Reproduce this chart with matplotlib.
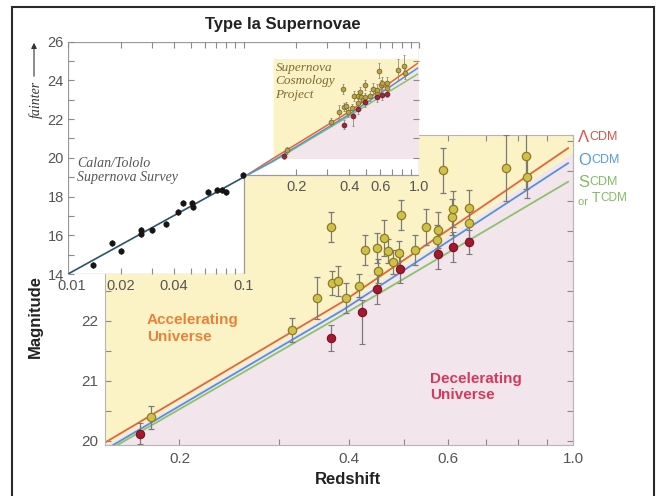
import matplotlib.pyplot as plt
from matplotlib.patches import Polygon, Rectangle
from matplotlib.ticker import FixedLocator, FixedFormatter, NullFormatter, MultipleLocator

plt.rcParams['font.family'] = ['Liberation Sans', 'DejaVu Sans']

# Supernova Cosmology Project, points on/above the models
scp_z = [0.178, 0.317, 0.351, 0.371, 0.373, 0.383, 0.396, 0.416, 0.427, 0.448,
         0.450, 0.462, 0.470, 0.479, 0.490, 0.495, 0.524, 0.548, 0.573, 0.576,
         0.588, 0.609, 0.613, 0.654, 0.654, 0.761, 0.824, 0.829]
scp_mag = [20.39, 21.85, 22.38, 23.57, 22.63, 22.66, 22.38, 22.59, 23.18, 23.21,
           22.83, 23.38, 23.16, 22.99, 23.13, 23.77, 23.18, 23.57, 23.35, 23.52,
           24.51, 23.74, 23.86, 23.88, 23.63, 24.55, 24.75, 24.40]
scp_err = [0.19, 0.20, 0.35, 0.25, 0.20, 0.25, 0.25, 0.20, 0.25, 0.25,
           0.20, 0.30, 0.20, 0.20, 0.20, 0.25, 0.25, 0.30, 0.25, 0.30,
           0.37, 0.30, 0.30, 0.30, 0.25, 0.55, 0.55, 0.35]

# points falling below the models
low_z = [0.170, 0.372, 0.422, 0.448, 0.493, 0.576, 0.613, 0.653]
low_mag = [20.12, 21.71, 22.14, 22.53, 22.86, 23.12, 23.24, 23.32]
low_err_lo = [0.17, 0.22, 0.52, 0.25, 0.22, 0.25, 0.25, 0.20]
low_err_hi = [0.17, 0.22, 0.20, 0.25, 0.22, 0.25, 0.25, 0.20]

# Calan/Tololo nearby supernovae
ct_z = [0.0139, 0.0179, 0.0200, 0.0261, 0.0261, 0.0300, 0.0362, 0.0425,
        0.0450, 0.0507, 0.0518, 0.0630, 0.0704, 0.0751, 0.0792, 0.0997]
ct_mag = [14.47, 15.59, 15.19, 16.29, 16.06, 16.25, 16.60, 17.22,
          17.65, 17.65, 17.47, 18.22, 18.36, 18.36, 18.22, 19.11]

# model curves
model_z = [0.01, 0.1, 0.1475, 0.39, 0.98]
lcdm = [14.0, 19.0, 19.97, 22.32, 24.88]
ocdm = [14.0, 19.0, 19.85, 22.18, 24.63]
scdm = [14.0, 19.0, 19.81, 22.10, 24.32]

# accelerating / decelerating divide
edge_z = [0.1475, 0.39, 1.0]
edge_mag = [19.92, 22.25, 24.81]

yellow_bg = '#fbf3c6'
pink_bg = '#f2e5ec'
c_red = '#e8623c'
c_blue = '#5592d6'
c_green = '#8cc26c'
tick_c = '#8a8a8a'
lab_c = '#555555'

fig = plt.figure(figsize=(6.58, 4.96), dpi=100)
W, H = 658, 496

# ---- main panel ----
ax = fig.add_axes([105 / W, 51 / H, 468 / W, 310 / H], zorder=1)
ax.set_xscale('log')
ax.set_xlim(0.1475, 1.0)
ax.set_ylim(19.93, 25.1)

ax.fill_between(edge_z, edge_mag, 25.1, color=yellow_bg, lw=0, zorder=0)
ax.fill_between(edge_z, 19.93, edge_mag, color=pink_bg, lw=0, zorder=0)

ax.plot(model_z, scdm, color=c_green, lw=1.3, zorder=2)
ax.plot(model_z, ocdm, color=c_blue, lw=1.3, zorder=2)
ax.plot(model_z, lcdm, color=c_red, lw=1.3, zorder=2)

ax.errorbar(scp_z, scp_mag, yerr=scp_err, fmt='o', ms=6, mfc='#cfc04a', mec='#8c7d22',
            mew=0.9, ecolor='#7a7a7a', elinewidth=0.9, capsize=2, capthick=0.8, zorder=3)
ax.errorbar(low_z, low_mag, yerr=[low_err_lo, low_err_hi], fmt='o', ms=6, mfc='#a5192f',
            mec='#7a1020', mew=0.8, ecolor='#7a7a7a', elinewidth=0.9, capsize=2,
            capthick=0.8, zorder=3)

ax.xaxis.set_major_locator(FixedLocator([0.2, 0.4, 0.6, 1.0]))
ax.xaxis.set_major_formatter(FixedFormatter(['0.2', '0.4', '0.6', '1.0']))
ax.xaxis.set_minor_locator(FixedLocator([0.3, 0.5, 0.7, 0.8, 0.9]))
ax.xaxis.set_minor_formatter(NullFormatter())
ax.yaxis.set_major_locator(MultipleLocator(1))
ax.yaxis.set_minor_locator(MultipleLocator(0.5))
ax.tick_params(which='both', direction='in', top=True, right=True, color=tick_c,
               length=4, width=0.8, labelsize=11, labelcolor=lab_c, pad=5)
for s in ax.spines.values():
    s.set_color('#b5b5b5')
    s.set_linewidth(0.8)

ax.text(0.09, 0.377, 'Accelerating\nUniverse', transform=ax.transAxes, fontsize=11,
        fontweight='bold', color='#e8823a', va='center', linespacing=1.25)
ax.text(0.694, 0.187, 'Decelerating\nUniverse', transform=ax.transAxes, fontsize=11,
        fontweight='bold', color='#d43a5c', va='center', linespacing=1.25)


def model_label(y, parts, color):
    # big capital letters followed by small caps
    prev = None
    for txt, size in parts:
        if prev is None:
            prev = ax.text(1.011, y, txt, transform=ax.transAxes, fontsize=size,
                           color=color, va='center', ha='left')
        else:
            prev = ax.annotate(txt, xy=(1, 0.12), xycoords=prev, xytext=(0.3, 0),
                               textcoords='offset points', fontsize=size, color=color,
                               va='bottom', ha='left')


model_label(0.993, [('\u039b', 12), ('CDM', 9)], '#e05048')
model_label(0.919, [('O', 12), ('CDM', 9)], '#5a9ad8')
model_label(0.848, [('S', 12), ('CDM', 9)], '#86bb62')
model_label(0.785, [('or ', 8), ('T', 10), ('CDM', 8.5)], '#86bb62')

# ---- inset: full Hubble diagram ----
ins = fig.add_axes([68 / W, 222 / H, 351 / W, 232.3 / H], zorder=2)
ins.set_xscale('log')
ins.set_xlim(0.01, 1.0)
ins.set_ylim(14, 26)
ins.set_facecolor('none')
for s in ins.spines.values():
    s.set_visible(False)

step = 19.1
frame = Polygon([(0.01, 14), (0.01, 26), (1.0, 26), (1.0, step), (0.1, step), (0.1, 14)],
                closed=True, fc='white', ec='#9a9a9a', lw=0.9, zorder=0)
ins.add_patch(frame)

f1 = ins.fill_between(edge_z, edge_mag, 25.1, color=yellow_bg, lw=0, zorder=0.5)
f2 = ins.fill_between(edge_z, 20, edge_mag, color=pink_bg, lw=0, zorder=0.5)
for art in (f1, f2):
    art.set_clip_path(frame)

for mags, col in ((lcdm, c_red), (scdm, c_green), (ocdm, c_blue)):
    ln, = ins.plot(model_z, mags, color=col, lw=1.1, zorder=2)
    ln.set_clip_path(frame)
core, = ins.plot(model_z[:2], lcdm[:2], color='#1f3d4a', lw=0.6, zorder=2.1)
core.set_clip_path(frame)

ins.errorbar(ct_z, ct_mag, yerr=0.15, fmt='o', ms=3.4, color='#151515',
             elinewidth=0.8, capsize=0, zorder=3)
ins.errorbar(scp_z, scp_mag, yerr=scp_err, fmt='o', ms=3.4, mfc='#b9a444', mec='#7a6a2a',
             mew=0.6, ecolor='#8a8a8a', elinewidth=0.6, capsize=1, zorder=3)
ins.errorbar(low_z, low_mag, yerr=[low_err_lo, low_err_hi], fmt='o', ms=3.4, mfc='#9a2a3a',
             mec='#6a1a2a', mew=0.6, ecolor='#8a8a8a', elinewidth=0.6, capsize=1, zorder=3)

ins.yaxis.set_major_locator(MultipleLocator(2))
ins.yaxis.set_minor_locator(MultipleLocator(1))
ins.tick_params(axis='y', which='both', direction='in', left=True, right=False,
                color=tick_c, length=4, width=0.8, labelsize=10.5, labelcolor=lab_c, pad=3)
ins.tick_params(axis='x', which='both', direction='in', bottom=False, labelbottom=False,
                top=True, color=tick_c, length=4, width=0.8)

# ticks along the right edge and the stepped lower edge
right_ticks = [20, 21, 22, 23, 24, 25]
low_ticks = [0.02, 0.03, 0.04, 0.05, 0.06, 0.07, 0.08, 0.09]
high_ticks = [0.2, 0.3, 0.4, 0.5, 0.6, 0.7, 0.8, 0.9]
ins.plot([1.0] * len(right_ticks), right_ticks, ls='none', marker=0, ms=4, mew=0.8,
         color=tick_c, clip_on=False, zorder=4)
ins.plot(low_ticks, [14] * len(low_ticks), ls='none', marker=2, ms=4, mew=0.8,
         color=tick_c, clip_on=False, zorder=4)
ins.plot(high_ticks, [step] * len(high_ticks), ls='none', marker=2, ms=4, mew=0.8,
         color=tick_c, clip_on=False, zorder=4)

low_labels = [0.01, 0.02, 0.04, 0.1]
high_labels = [0.2, 0.4, 0.6, 1.0]
for v in low_labels:
    ins.annotate(f'{v:g}', xy=(v, 14), xytext=(3 if v == 0.01 else 0, -3.5),
                 textcoords='offset points', ha='center', va='top', fontsize=10.5,
                 color=lab_c, annotation_clip=False)
for v in high_labels:
    ins.annotate(f'{v:.1f}', xy=(v, step), xytext=(0, -3.5), textcoords='offset points',
                 ha='center', va='top', fontsize=10.5, color=lab_c, annotation_clip=False)

ins.text(0.152, 24.95, 'Supernova\nCosmology\nProject', fontsize=9.5, style='italic',
         family=['Liberation Serif', 'DejaVu Serif'], color='#7d6b2e', va='top',
         linespacing=1.15, zorder=2.5)
ins.text(0.0113, 20.05, 'Calan/Tololo\nSupernova Survey', fontsize=10, style='italic',
         family=['Liberation Serif', 'DejaVu Serif'], color='#555555', va='top',
         linespacing=1.1)

# ---- figure level text ----
fig.text(283 / W, 1 - 25 / H, 'Type Ia Supernovae', ha='center', va='center',
         fontsize=12, fontweight='bold', color='#222222')
fig.text(348 / W, 1 - 479 / H, 'Redshift', ha='center', va='center',
         fontsize=12, fontweight='bold', color='#222222')
fig.text(35 / W, 1 - 317 / H, 'Magnitude', ha='center', va='center', rotation=90,
         fontsize=12, fontweight='bold', color='#222222')
fig.text(36 / W, 1 - 99 / H, 'fainter', ha='center', va='center', rotation=90,
         fontsize=10, style='italic', family=['Liberation Serif', 'DejaVu Serif'],
         color='#333333')
fig.add_artist(plt.Annotation('', xy=(34 / W, 1 - 40 / H), xytext=(34 / W, 1 - 79 / H),
                              xycoords='figure fraction', textcoords='figure fraction',
                              arrowprops=dict(arrowstyle='-|>', color='#333333', lw=0.8,
                                              mutation_scale=8)))

# outer frame, open at the bottom
fig.add_artist(Rectangle((12 / W, -0.05), (654 - 12) / W, 1 - 7 / H + 0.05,
                         transform=fig.transFigure, fill=False, ec='#2a2a2a', lw=1.5))

fig.savefig('out.png', dpi=100)
